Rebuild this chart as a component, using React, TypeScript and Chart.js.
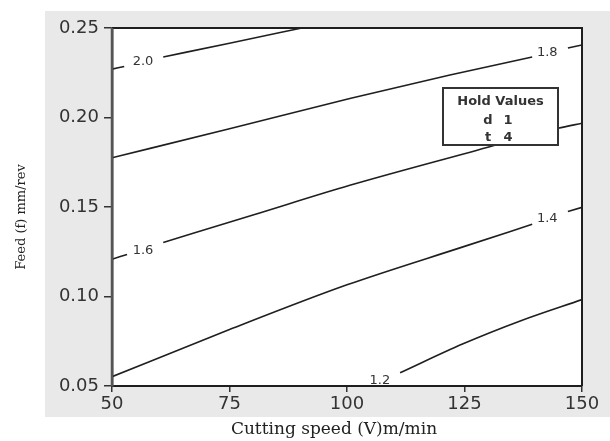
import React, { useEffect, useRef } from "react";
import { Chart, registerables } from "chart.js";

Chart.register(...registerables);

// Axis ranges / ticks
const xMin = 50;
const xMax = 150;
const xStep = 25;
const yMin = 0.05;
const yMax = 0.25;
const yStep = 0.05;

// Contour lines (V in m/min, f in mm/rev); null = gap for the contour label
const line20V = [50, 52.6, 56, 60.9, 75, 90.4];
const line20F = [0.227, 0.2285, null, 0.2338, 0.2415, 0.25];

const line18V = [50, 75, 100.6, 121.9, 139.4, 143, 147, 150];
const line18F = [0.1775, 0.1937, 0.2106, 0.2237, 0.2338, null, 0.2388, 0.2405];

const line16V = [50, 53.2, 57, 60.9, 80, 100.6, 127.7, 144.9, 150];
const line16F = [0.1208, 0.1235, null, 0.1302, 0.1455, 0.1621, 0.1817, 0.194, 0.1968];

const line14V = [50, 75, 100, 125, 139.4, 143, 147, 150];
const line14F = [0.0552, 0.0815, 0.1065, 0.128, 0.1403, null, 0.1475, 0.1498];

const line12V = [111.3, 124.7, 137, 150];
const line12F = [0.0574, 0.0736, 0.0865, 0.0983];

// Contour labels
const labelTexts = ["2.0", "1.8", "1.6", "1.4", "1.2"];
const labelV = [56.6, 142.6, 56.6, 142.6, 107];
const labelF = [0.231, 0.236, 0.1257, 0.1436, 0.053];

// Hold values box
const holdTitle = "Hold Values";
const holdNames = ["d", "t"];
const holdValues = ["1", "4"];

const xTitle = "Cutting speed (V)m/min";
const yTitle = "Feed (f) mm/rev";

function toPoints(v: number[], f: (number | null)[]) {
  return v.map((x, i) => ({ x, y: f[i] }));
}

const decorPlugin = {
  id: "decor",
  beforeDraw(chart: any) {
    const { ctx, chartArea: a, width, height } = chart;
    ctx.save();
    ctx.fillStyle = "#ffffff";
    ctx.fillRect(0, 0, width, height);
    ctx.fillStyle = "#e9e9e9";
    ctx.fillRect(a.left - 67, a.top - 17, width - (a.left - 67), a.bottom + 31 - (a.top - 17));
    ctx.fillStyle = "#ffffff";
    ctx.fillRect(a.left, a.top, a.right - a.left, a.bottom - a.top);
    ctx.restore();
  },
  afterDraw(chart: any) {
    const { ctx, chartArea: a, scales } = chart;
    const xs = scales.x;
    const ys = scales.y;
    ctx.save();
    // frame
    ctx.strokeStyle = "#1e1e1e";
    ctx.lineWidth = 2;
    ctx.beginPath();
    ctx.moveTo(a.left, a.top);
    ctx.lineTo(a.right, a.top);
    ctx.lineTo(a.right, a.bottom);
    ctx.stroke();
    ctx.strokeStyle = "#555";
    ctx.lineWidth = 2.5;
    ctx.beginPath();
    ctx.moveTo(a.left, a.top);
    ctx.lineTo(a.left, a.bottom);
    ctx.stroke();

    // contour labels
    ctx.fillStyle = "#333";
    ctx.font = "13px 'DejaVu Sans'";
    ctx.textAlign = "center";
    ctx.textBaseline = "middle";
    labelTexts.forEach((t, i) => {
      ctx.fillText(t, xs.getPixelForValue(labelV[i]), ys.getPixelForValue(labelF[i]));
    });

    // hold values box
    const bx = a.left + 331;
    const by = a.top + 60;
    const bw = 115;
    const bh = 57;
    ctx.fillStyle = "#fff";
    ctx.fillRect(bx, by, bw, bh);
    ctx.strokeStyle = "#333";
    ctx.lineWidth = 2;
    ctx.strokeRect(bx, by, bw, bh);
    ctx.fillStyle = "#333";
    ctx.font = "bold 13px 'DejaVu Sans'";
    ctx.fillText(holdTitle, bx + bw / 2, by + 14);
    holdNames.forEach((n, i) => {
      ctx.textAlign = "center";
      ctx.fillText(n, bx + 45, by + 33 + i * 17);
      ctx.fillText(holdValues[i], bx + 65, by + 33 + i * 17);
    });

    // axis titles
    ctx.fillStyle = "#222";
    ctx.font = "17px 'DejaVu Serif'";
    ctx.textAlign = "center";
    ctx.fillText(xTitle, a.left + 222, a.bottom + 44);
    ctx.save();
    ctx.translate(22, a.top + 189);
    ctx.rotate(-Math.PI / 2);
    ctx.font = "13px 'DejaVu Serif'";
    ctx.fillText(yTitle, 0, 0);
    ctx.restore();
    ctx.restore();
  },
};

export default function App() {
  const ref = useRef<HTMLCanvasElement | null>(null);
  useEffect(() => {
    document.body.style.margin = "0";
    const canvas = ref.current;
    if (!canvas) return;
    const lineStyle = {
      borderColor: "#1f1f1f",
      borderWidth: 1.6,
      pointRadius: 0,
      fill: false,
      cubicInterpolationMode: "monotone",
      spanGaps: false,
    };
    const chart = new Chart(canvas, {
      type: "line",
      data: {
        datasets: [
          { ...lineStyle, data: toPoints(line20V, line20F) },
          { ...lineStyle, data: toPoints(line18V, line18F) },
          { ...lineStyle, data: toPoints(line16V, line16F) },
          { ...lineStyle, data: toPoints(line14V, line14F) },
          { ...lineStyle, data: toPoints(line12V, line12F) },
        ] as any,
      },
      options: {
        animation: false,
        responsive: false,
        devicePixelRatio: 1,
        layout: { padding: { left: 0, top: 28, right: 28, bottom: 0 } },
        plugins: { legend: { display: false }, tooltip: { enabled: false } },
        scales: {
          x: {
            type: "linear",
            min: xMin,
            max: xMax,
            afterFit: (s: any) => {
              s.height = 55;
            },
            ticks: {
              stepSize: xStep,
              color: "#333",
              font: { family: "'DejaVu Sans'", size: 18 },
              padding: 2,
              maxRotation: 0,
            },
            grid: {
              drawOnChartArea: false,
              drawTicks: true,
              tickLength: 6,
              color: "#333",
              lineWidth: 1.5,
            },
            border: { display: true, color: "#1e1e1e", width: 2 },
          },
          y: {
            type: "linear",
            min: yMin,
            max: yMax,
            afterFit: (s: any) => {
              s.width = 112;
            },
            ticks: {
              stepSize: yStep,
              color: "#333",
              font: { family: "'DejaVu Sans'", size: 18 },
              padding: 5,
              callback: (v: any) => Number(v).toFixed(2),
            },
            grid: {
              drawOnChartArea: false,
              drawTicks: true,
              tickLength: 8,
              color: "#333",
              lineWidth: 1.5,
            },
            border: { display: true, color: "#555", width: 2.5 },
          },
        },
      },
      plugins: [decorPlugin],
    } as any);
    return () => chart.destroy();
  }, []);
  return (
    <canvas
      ref={ref}
      width={610}
      height={441}
      style={{ display: "block", width: 610, height: 441 }}
    />
  );
}
